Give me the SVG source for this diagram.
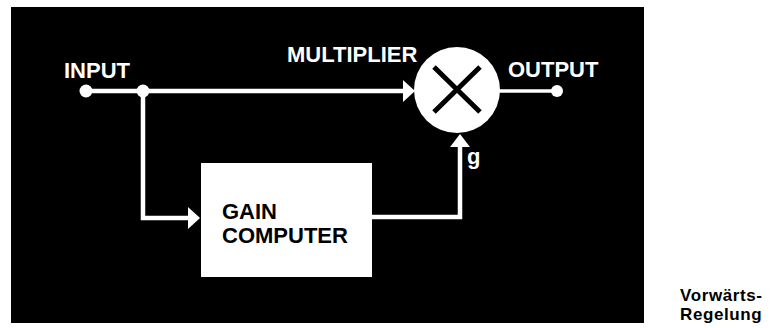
<svg xmlns="http://www.w3.org/2000/svg" width="770" height="328" viewBox="0 0 770 328">
  <style>
    .lbl { font-family: "Liberation Sans", Arial, sans-serif; font-weight: bold; fill: #fff; font-size: 22px; }
    .box-lbl { font-family: "Liberation Sans", Arial, sans-serif; font-weight: bold; fill: #000; font-size: 22px; }
    .cap { font-family: "Liberation Sans", Arial, sans-serif; font-weight: bold; fill: #000; font-size: 17px; letter-spacing: 0.6px; }
    .wire { fill: none; stroke: #fff; stroke-width: 4.5; }
    .head { fill: #fff; }
  </style>
  <rect width="770" height="328" fill="#fff"/>
  <rect id="panel" x="11" y="7" width="633" height="316" fill="#000"/>

  <g id="connectors">
    <!-- input to multiplier -->
    <line class="wire" x1="86" y1="91" x2="404" y2="91"/>
    <polygon class="head" points="403,80 415,91 403,102"/>
    <!-- branch down to gain computer -->
    <polyline class="wire" points="143,91 143,218 189,218"/>
    <polygon class="head" points="188,207 200,218 188,229"/>
    <!-- gain computer output up to multiplier -->
    <polyline class="wire" points="372,217 460,217 460,146"/>
    <polygon class="head" points="450,147 460,134 470,147"/>
    <!-- multiplier to output -->
    <line class="wire" x1="498" y1="91" x2="557" y2="91" style="stroke-width:3.5"/>
    <circle cx="86" cy="91" r="6.5" fill="#fff"/>
    <circle cx="143" cy="91" r="6.5" fill="#fff"/>
    <circle cx="557" cy="91" r="6" fill="#fff"/>
  </g>

  <g id="input">
    <text class="lbl" x="64" y="78">INPUT</text>
  </g>

  <g id="multiplier">
    <circle cx="457" cy="90" r="43" fill="#fff"/>
    <path d="M434,67 L480,112 M480,67 L434,112" stroke="#000" stroke-width="5" fill="none"/>
    <text class="lbl" x="287" y="62">MULTIPLIER</text>
  </g>

  <g id="output">
    <text class="lbl" x="508" y="77">OUTPUT</text>
  </g>

  <g id="gain-computer">
    <rect x="201" y="163" width="171" height="114" fill="#fff"/>
    <text class="box-lbl" x="222" y="219">GAIN</text>
    <text class="box-lbl" x="222" y="243">COMPUTER</text>
  </g>

  <g id="gain-label">
    <text class="lbl" x="467" y="164">g</text>
  </g>

  <g id="caption">
    <text class="cap" x="680" y="301">Vorwärts-</text>
    <text class="cap" x="680" y="320">Regelung</text>
  </g>
</svg>
